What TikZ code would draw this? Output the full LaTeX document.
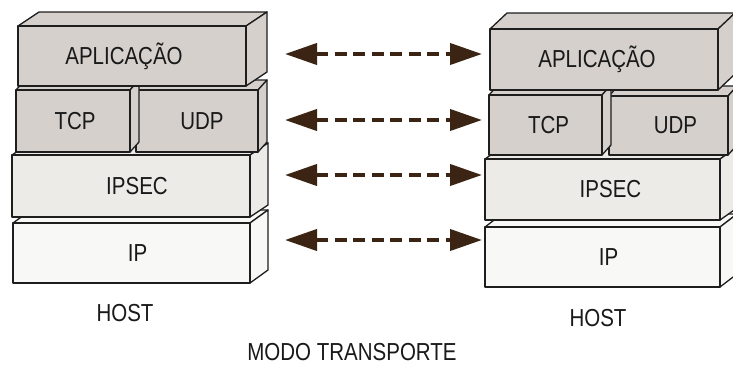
\documentclass[tikz,border=0pt]{standalone}
\usepackage{fontspec}
\usepackage{graphicx}
\setmainfont{Liberation Sans}
\usetikzlibrary{arrows.meta,calc}
\definecolor{darkfill}{HTML}{D5D0CC}
\definecolor{midfill}{HTML}{ECEBE8}
\definecolor{lightfill}{HTML}{F8F8F7}
\definecolor{edgecol}{HTML}{1E1E1E}
\definecolor{arrowcol}{HTML}{3B2414}
\newcommand{\tallword}[1]{\scalebox{1}[1.2]{#1}}
\newcommand{\rsh}[2]{\hspace*{#1pt}#2}% shift text right by #1/2
\newcommand{\lsh}[2]{#2\hspace*{#1pt}}% shift text left by #1/2
\tikzset{
  face/.style={draw=edgecol, line width=1.3pt, line join=round},
  frontface/.style={face, inner sep=0pt, outer sep=0pt, font=\fontsize{20.5}{24}\selectfont, text=black!90},
  lbl/.style={font=\fontsize{20.5}{24}\selectfont, text=black!90, inner sep=0pt},
  link/.style={draw=arrowcol, line width=4pt, dash pattern=on 12pt off 6.5pt,
    {Triangle[length=32pt,width=21pt,fill=arrowcol]}-{Triangle[length=32pt,width=21pt,fill=arrowcol]}}
}
% #1 name, #2 x1, #3 y1, #4 x2, #5 y2, #6 dx, #7 dy, #8 fill, #9 text
\newcommand{\prismbox}[9]{%
  \draw[face, fill=#8] (#2,#3) -- ++(#6,#7) -- ($(#4,#3)+(#6,#7)$) -- (#4,#3) -- cycle;
  \draw[face, fill=#8] (#4,#3) -- ++(#6,#7) -- ($(#4,#5)+(#6,#7)$) -- (#4,#5) -- cycle;
  \node[frontface, fill=#8, minimum width={(#4-#2)*1pt}, minimum height={(#5-#3)*1pt}]
    (#1) at ({(#2+#4)/2},{(#3+#5)/2}) {\tallword{#9}};
}
\begin{document}
\begin{tikzpicture}[x=1pt,y=-1pt]
\useasboundingbox (0,0) rectangle (733,365);
\clip (0,0) rectangle (733,365);
% left host (bottom to top)
\prismbox{ipL}{13}{223}{250}{283}{18}{-13}{lightfill}{\rsh{12}{IP}}
\prismbox{ipsecL}{12}{155}{250}{217}{18}{-12}{midfill}{\rsh{12}{IPSEC}}
\prismbox{udpL}{136}{90}{258}{152}{9}{-10}{darkfill}{\rsh{10}{UDP}}
\prismbox{tcpL}{16}{90}{130}{152}{9}{-10}{darkfill}{\rsh{4}{TCP}}
\prismbox{appL}{18}{26}{246}{86}{21}{-14}{darkfill}{\lsh{16}{APLICAÇÃO}}
% right host
\prismbox{ipR}{485}{227}{720}{287}{17}{-13}{lightfill}{\rsh{12}{IP}}
\prismbox{ipsecR}{485}{159}{720}{220}{17}{-12}{midfill}{\rsh{16}{IPSEC}}
\prismbox{udpR}{609}{96}{728}{155}{9}{-10}{darkfill}{\rsh{14}{UDP}}
\prismbox{tcpR}{489}{95}{602}{155}{9}{-10}{darkfill}{\rsh{6}{TCP}}
\prismbox{appR}{490}{29}{718}{90}{17}{-16}{darkfill}{\lsh{14}{APLICAÇÃO}}
% arrow end points
\coordinate (a1l) at (285,54);  \coordinate (a1r) at (482,54);
\coordinate (a2l) at (285,120); \coordinate (a2r) at (482,120);
\coordinate (a3l) at (285,175); \coordinate (a3r) at (482,175);
\coordinate (a4l) at (285,240); \coordinate (a4r) at (482,240);
\draw[link] (a1l) -- (a1r);
\draw[link] (a2l) -- (a2r);
\draw[link] (a3l) -- (a3r);
\draw[link] (a4l) -- (a4r);
% labels
\node[lbl] (hostL) at (125,313) {\tallword{HOST}};
\node[lbl] (hostR) at (598,318) {\tallword{HOST}};
\node[lbl] (modo) at (352,352) {\tallword{MODO TRANSPORTE}};
\end{tikzpicture}
\end{document}
